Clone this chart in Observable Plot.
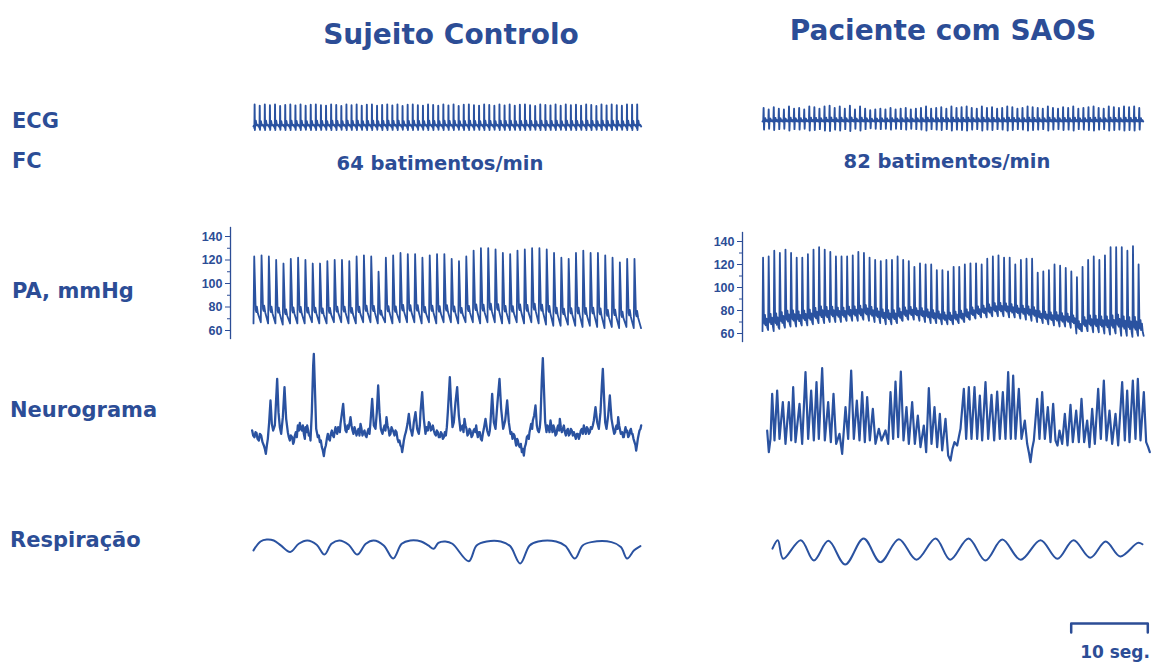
<!DOCTYPE html>
<html><head><meta charset="utf-8">
<script src="https://cdn.jsdelivr.net/npm/d3@7"></script>
<script src="https://cdn.jsdelivr.net/npm/@observablehq/plot@0.6"></script>
<style>
body{margin:0;background:#fff;}
#wrap{position:relative;width:1155px;height:663px;overflow:hidden;background:#fff;}
</style></head><body><div id="wrap"></div>
<script>
// ---------------- DATA ----------------
const heartRate = {control: 64, patient: 82};          // batimentos/min
const paTicks = [60, 80, 100, 120, 140];                 // mmHg
const paMinorTicks = [70, 90, 110, 130];
const scaleBarSeconds = 10;

// ECG: R-wave amplitude per beat (relative units)
const ecgControl = [1,0.95,1,0.97,1,0.93,0.98,1,0.96,1,0.94,0.99,1,0.97,0.95,1,0.98,0.93,1,0.97,1,0.95,0.99,1,0.94,0.98,1,0.96,1,0.93,0.99,1,0.97,0.95,1,0.98,0.94,1,0.96,1,0.93,0.99,1,0.97,0.95,1,0.98,0.94,1,0.96,1,0.95,0.99,1,0.97,0.93,1,0.98,0.96,1,0.94,1,0.97,0.99,0.95,1,0.98,0.93,1,0.96,1,0.97,0.94,1,0.99,1];
const ecgPatient = [0.9,0.8,0.95,0.85,0.8,1,0.85,0.9,0.8,1,0.95,0.85,1,1.05,0.9,1,0.85,1.05,0.8,1,0.85,0.75,0.8,0.85,0.8,0.9,0.8,0.85,0.9,0.8,0.85,0.9,1,0.85,0.9,0.95,0.85,1,0.9,0.95,1,0.9,0.85,1,0.9,0.95,0.85,0.9,1,0.95,0.85,0.9,1,0.95,0.9,0.85,1,0.9,0.85,0.95,0.9,1,0.85,0.9,0.95,1,0.9,0.85,1,0.95,0.9,1,0.95,1,0.9];
const ecgDurationS = 49.7;
// ECG beat shape: [fraction of RR interval, fraction of R amplitude]
const ecgShapeControl = [[0,0],[0.1,0.05],[0.18,-0.08],[0.22,1],[0.27,-0.16],[0.32,0.04],[0.45,0.26],[0.6,0.05],[0.8,0.08],[1,0]];
const ecgShapePatient = [[0,0],[0.15,0.08],[0.22,1],[0.3,-0.6],[0.38,0.08],[0.55,0.25],[0.7,0.02],[0.85,0.1],[1,0]];

// PA (mmHg): systolic and diastolic value per beat
const paSysControl = [123,124,123,120,117,121,122,120,117,117,119,120,120,119,123,124,123,110,122,124,126,125,125,122,124,125,125,121,119,123,128,130,130,129,126,125,128,129,130,130,129,126,122,121,126,128,126,126,124,122,118,121,121];
const paDiaControl = [66,67,66,66,65,66,66,66,67,66,66,67,67,66,66,67,67,66,67,66,67,67,67,66,67,66,67,67,66,67,67,66,67,67,66,66,67,66,67,66,65,64,64,65,64,63,64,63,62,63,62,63,62];
const paSysPatient = [126,127,132,130,133,130,126,126,129,133,135,133,131,127,127,127,128,131,130,126,124,123,124,124,127,124,123,118,121,120,120,115,115,114,118,118,120,121,121,120,125,127,128,126,126,120,124,125,125,113,114,115,120,119,117,114,109,118,124,127,124,128,135,135,135,132,136,120];
const paDiaPatient = [62,63,62,64,65,66,66,67,67,68,69,69,70,70,70,71,71,71,72,71,70,69,68,68,69,71,72,72,71,70,69,69,68,68,68,69,70,72,73,74,74,75,75,75,74,74,73,72,71,70,69,68,67,66,66,65,60,62,62,61,61,60,59,60,58,58,57,58];
// PA beat shape: [fraction of RR, fraction of pulse pressure]
const paShapeControl = [[0,0],[0.1,1],[0.3,0.2],[0.38,0.17],[0.46,0.25],[0.6,0.15],[1,0]];
const paShapePatient = [[0,0],[0.1,1],[0.25,0.18],[0.35,0.1],[0.45,0.22],[0.55,0.08],[0.7,0.17],[0.85,0.05],[1,0]];

// Neurograma: [sample (~23 samples/s), amplitude (a.u.)]
const neuroControl = [[35,45],[38,30],[42,25],[45,40],[48,38],[51,20],[55,15],[58,35],[62,30],[66,10],[70,0],[73,-10],[76,-25],[79,0],[82,20],[86,70],[90,135],[94,65],[98,45],[103,60],[106,120],[110,200],[114,100],[118,55],[122,35],[127,85],[132,175],[137,80],[142,40],[145,25],[148,15],[151,30],[155,25],[158,5],[160,10],[163,30],[166,40],[169,25],[172,60],[175,45],[178,68],[181,50],[184,45],[187,60],[190,35],[193,20],[195,55],[198,40],[200,60],[203,45],[205,30],[208,35],[210,15],[214,100],[218,240],[220,275],[223,180],[227,50],[230,35],[232,25],[235,30],[238,10],[241,15],[244,-5],[247,-15],[250,-32],[253,-10],[256,0],[259,20],[262,35],[265,20],[268,15],[271,35],[274,45],[277,30],[280,25],[283,45],[285,55],[288,40],[290,35],[293,55],[295,50],[298,40],[300,65],[304,95],[308,125],[312,70],[315,45],[318,40],[321,60],[324,50],[327,65],[330,85],[333,60],[336,45],[339,35],[342,55],[345,45],[348,30],[351,40],[354,50],[357,30],[360,65],[363,50],[366,30],[369,40],[372,45],[375,30],[378,25],[381,40],[384,50],[387,35],[390,70],[395,140],[400,60],[405,50],[409,100],[413,180],[417,100],[421,50],[424,40],[426,35],[429,50],[432,60],[435,45],[438,85],[441,60],[444,50],[447,30],[450,35],[453,55],[455,50],[459,40],[462,30],[465,45],[468,40],[471,20],[474,10],[477,15],[480,0],[483,-5],[485,-20],[488,0],[490,15],[493,30],[496,40],[499,55],[501,65],[505,95],[510,50],[513,40],[515,30],[518,50],[520,70],[525,100],[530,50],[533,40],[535,35],[538,60],[540,100],[545,160],[550,80],[555,35],[558,55],[562,45],[565,70],[568,65],[571,45],[574,50],[577,60],[580,45],[583,35],[586,30],[589,45],[592,40],[595,25],[598,25],[601,40],[604,35],[607,20],[610,25],[613,40],[616,30],[619,55],[622,100],[628,205],[632,120],[636,55],[640,70],[645,130],[650,175],[655,90],[660,45],[663,55],[666,60],[669,40],[672,80],[675,60],[678,50],[681,30],[684,35],[687,50],[690,45],[693,25],[696,30],[699,45],[702,50],[705,40],[707,60],[710,35],[712,25],[715,40],[718,40],[721,20],[724,15],[727,35],[730,50],[735,80],[740,45],[743,35],[745,30],[748,45],[750,70],[755,155],[760,70],[765,50],[771,130],[777,200],[782,110],[788,50],[794,75],[800,135],[805,70],[810,35],[813,40],[816,20],[819,35],[822,30],[825,10],[827,0],[830,20],[832,15],[835,0],[838,-5],[841,5],[844,-20],[847,-10],[850,-30],[853,-5],[856,5],[859,25],[862,30],[865,20],[867,40],[870,55],[872,65],[875,50],[877,75],[881,90],[885,120],[889,60],[892,45],[895,40],[898,55],[900,80],[904,200],[907,262],[910,180],[914,70],[918,40],[921,60],[924,55],[927,40],[930,75],[933,55],[936,40],[939,60],[942,50],[945,30],[948,35],[951,55],[953,60],[956,45],[958,80],[961,55],[964,40],[967,50],[970,60],[973,40],[976,30],[979,45],[982,50],[985,30],[988,35],[991,50],[994,45],[997,30],[1000,40],[1003,30],[1006,20],[1009,35],[1012,35],[1015,20],[1018,30],[1021,45],[1024,50],[1027,35],[1030,60],[1033,45],[1036,35],[1039,55],[1042,50],[1045,35],[1048,40],[1051,55],[1054,50],[1057,60],[1060,75],[1065,115],[1070,70],[1075,50],[1080,100],[1084,180],[1087,230],[1090,160],[1094,70],[1098,50],[1103,90],[1108,150],[1113,80],[1118,50],[1121,35],[1124,40],[1126,55],[1128,60],[1131,50],[1133,85],[1136,60],[1138,50],[1141,35],[1145,40],[1148,25],[1150,25],[1153,45],[1155,55],[1158,40],[1160,45],[1163,25],[1166,30],[1169,45],[1171,50],[1174,35],[1176,35],[1179,20],[1182,10],[1185,0],[1187,-15],[1190,5],[1192,20],[1195,35],[1197,45],[1200,50],[1202,60]];
const neuroPatient = [[35,75],[40,10],[45,50],[50,185],[57,45],[65,195],[72,50],[82,160],[90,35],[100,160],[107,45],[113,205],[120,40],[132,155],[140,35],[150,250],[158,50],[167,195],[175,45],[183,220],[190,50],[200,262],[208,45],[218,160],[226,40],[234,185],[242,35],[252,65],[260,5],[270,145],[278,50],[287,255],[295,50],[304,165],[312,45],[320,190],[328,40],[335,175],[343,45],[352,140],[360,35],[370,80],[378,45],[390,75],[398,35],[405,190],[413,50],[420,222],[428,55],[436,252],[444,45],[453,145],[460,35],[470,160],[478,35],[487,120],[495,25],[505,90],[512,10],[520,202],[528,35],[537,145],[545,25],[553,125],[560,15],[570,110],[578,0],[585,-15],[591,20],[597,40],[605,30],[615,80],[625,200],[632,50],[640,205],[648,50],[657,205],[665,50],[673,180],[680,45],[690,220],[698,50],[708,182],[716,45],[725,192],[733,50],[742,190],[750,50],[758,250],[766,50],[773,240],[780,50],[790,200],[798,50],[808,105],[815,35],[820,10],[825,-20],[830,20],[835,45],[845,170],[852,50],[860,190],[868,50],[877,145],[885,40],[893,155],[900,45],[906,30],[912,75],[920,35],[928,125],[936,30],[945,152],[952,40],[962,135],[970,40],[978,170],[986,40],[995,105],[1002,25],[1010,140],[1018,35],[1028,200],[1036,50],[1045,225],[1053,45],[1062,135],[1070,35],[1080,125],[1088,30],[1100,220],[1108,45],[1115,195],[1122,40],[1132,225],[1140,50],[1147,230],[1155,45],[1165,190],[1172,40],[1178,25],[1183,10]];

// Respiração: [time s, amplitude a.u.]
const respControl = [[0,-5],[0.9,22],[1.7,28],[2.6,25],[3.5,10],[4.7,-10],[5.8,15],[6.9,25],[8.1,12],[9.1,-18],[10,15],[11,25],[12.2,12],[13.3,-18],[14.4,15],[15.4,25],[16.7,10],[17.9,-30],[19,15],[20.1,25],[21.5,22],[22.4,10],[23.1,0],[23.7,18],[24.6,22],[25.5,15],[27.6,-38],[28.6,10],[29.9,22],[31.7,22],[32.9,8],[34.2,-45],[35.4,10],[36.5,22],[38.8,22],[40,8],[41.2,-30],[42.2,10],[43.3,20],[45.9,20],[47.1,5],[47.9,-30],[48.8,-5],[49.6,8]];
const respPatient = [[1.3,5],[2.0,30],[2.7,-25],[5.0,30],[6.7,-30],[8.6,28],[10.8,-42],[13.2,35],[15.4,-35],[17.8,33],[20.1,-28],[22.6,35],[24.5,-28],[26.9,35],[29.1,-30],[31.3,32],[33.7,-28],[36.3,30],[38.5,-25],[40.6,30],[42.8,-22],[44.8,26],[46.7,-18],[49.0,22],[49.6,18]];

const titles = ["Sujeito Controlo", "Paciente com SAOS"];
const rowLabels = ["ECG", "FC", "PA, mmHg", "Neurograma", "Respiração"];

// ---------------- LAYOUT / STYLE ----------------
const W = 1155, H = 663;
const TRACE = "#2a52a0", TEXT = "#2c4d96";
const FONT = "'DejaVu Sans', Verdana, sans-serif";
const tDomain = [0, 50];
const ctrlX = [253, 643], patX = [762, 1145];
const wrap = document.getElementById("wrap");

function layer(opts) {
  const svg = Plot.plot(Object.assign({width: W, height: H, margin: 0}, opts, {
    style: {position: "absolute", left: "0px", top: "0px", background: "none", maxWidth: "none",
            overflow: "visible", color: TEXT, fontFamily: "'Liberation Sans', Arial, sans-serif",
            fontSize: "12.5px", fontWeight: "bold"}
  }));
  wrap.appendChild(svg);
}

function beatTrace(peaks, bases, rr, shape) {
  const pts = [];
  peaks.forEach((p, i) => {
    const b = bases ? bases[i] : 0;
    shape.forEach(([f, w], j) => {
      if (j === shape.length - 1 && i < peaks.length - 1) return;
      pts.push({t: (i + f) * rr, v: b + w * (p - b)});
    });
  });
  return pts;
}
const pairs = arr => arr.map(([t, v]) => ({t, v}));

// ECG
layer({x: {domain: tDomain, range: ctrlX, axis: null}, y: {domain: [0, 1], range: [126, 104], axis: null},
  marks: [Plot.line(beatTrace(ecgControl, null, ecgDurationS / ecgControl.length, ecgShapeControl), {x: "t", y: "v", stroke: TRACE, strokeWidth: 1.9})]});
layer({x: {domain: tDomain, range: patX, axis: null}, y: {domain: [0, 1], range: [121, 106], axis: null},
  marks: [Plot.line(beatTrace(ecgPatient, null, ecgDurationS / ecgPatient.length, ecgShapePatient), {x: "t", y: "v", stroke: TRACE, strokeWidth: 1.9})]});

// PA
function paLayer(sys, dia, hr, shape, xr, axisX, yr, top, bottom) {
  layer({marginLeft: axisX, marginTop: top, marginBottom: H - bottom,
    x: {domain: tDomain, range: xr, axis: null},
    y: {domain: [60, 140], range: yr, label: null},
    marks: [
      Plot.frame({anchor: "left", stroke: TEXT, strokeWidth: 1.3}),
      Plot.axisY({anchor: "left", ticks: paTicks, tickSize: 5, tickPadding: 3, color: TEXT, label: null}),
      Plot.axisY({anchor: "left", ticks: paMinorTicks, tickSize: 3, tickFormat: () => "", color: TEXT, label: null}),
      Plot.line(beatTrace(sys, dia, 60 / hr, shape), {x: "t", y: "v", stroke: TRACE, strokeWidth: 1.8})
    ]});
}
paLayer(paSysControl, paDiaControl, heartRate.control, paShapeControl, ctrlX, 230, [330, 236], 227, 338);
paLayer(paSysPatient, paDiaPatient, heartRate.patient, paShapePatient, patX, 742, [333, 241], 232, 341);

// Neurograma
layer({x: {domain: [0, 1230], range: [240, 650], axis: null}, y: {domain: [0, 300], range: [445, 345], axis: null},
  marks: [Plot.line(pairs(neuroControl), {x: "t", y: "v", stroke: TRACE, strokeWidth: 2.3, strokeLinejoin: "round"})]});
layer({x: {domain: [0, 1200], range: [755, 1155], axis: null}, y: {domain: [0, 300], range: [455, 355], axis: null},
  marks: [Plot.line(pairs(neuroPatient), {x: "t", y: "v", stroke: TRACE, strokeWidth: 2.2, strokeLinejoin: "round"})]});

// Respiração
layer({x: {domain: tDomain, range: ctrlX, axis: null}, y: {domain: [-45, 28], range: [563, 539], axis: null},
  marks: [Plot.line(pairs(respControl), {x: "t", y: "v", stroke: TRACE, strokeWidth: 2, curve: "catmull-rom"})]});
layer({x: {domain: tDomain, range: patX, axis: null}, y: {domain: [-45, 35], range: [565, 538], axis: null},
  marks: [Plot.line(pairs(respPatient), {x: "t", y: "v", stroke: TRACE, strokeWidth: 2, curve: "catmull-rom"})]});

// Scale bar (10 s on the time scale)
const sbStart = 40.3;
layer({x: {domain: tDomain, range: patX, axis: null}, y: {domain: [0, 1], range: [632, 623], axis: null},
  marks: [Plot.line([{t: sbStart, v: 0}, {t: sbStart, v: 1}, {t: sbStart + scaleBarSeconds, v: 1}, {t: sbStart + scaleBarSeconds, v: 0}],
    {x: "t", y: "v", stroke: TEXT, strokeWidth: 2.5})]});

// Text
const txt = d3.create("svg").attr("width", W).attr("height", H)
  .style("position", "absolute").style("left", "0px").style("top", "0px")
  .attr("font-family", FONT).attr("font-weight", "bold").attr("fill", TEXT);
const textItems = [
  {s: titles[0], x: 451, y: 44, size: 28, a: "middle"},
  {s: titles[1], x: 943, y: 40, size: 28, a: "middle"},
  {s: rowLabels[0], x: 12, y: 128, size: 21, a: "start"},
  {s: rowLabels[1], x: 12, y: 168, size: 21, a: "start"},
  {s: rowLabels[2], x: 12, y: 298, size: 21, a: "start"},
  {s: rowLabels[3], x: 10, y: 417, size: 21, a: "start"},
  {s: rowLabels[4], x: 10, y: 547, size: 21, a: "start"},
  {s: `${heartRate.control} batimentos/min`, x: 440, y: 170, size: 19.5, a: "middle"},
  {s: `${heartRate.patient} batimentos/min`, x: 947, y: 168, size: 19.5, a: "middle"},
  {s: `${scaleBarSeconds} seg.`, x: 1150, y: 658, size: 17, a: "end"}
];
txt.selectAll("text").data(textItems).join("text")
  .attr("x", d => d.x).attr("y", d => d.y).attr("font-size", d => d.size).attr("text-anchor", d => d.a).text(d => d.s);
wrap.appendChild(txt.node());
</script></body></html>
